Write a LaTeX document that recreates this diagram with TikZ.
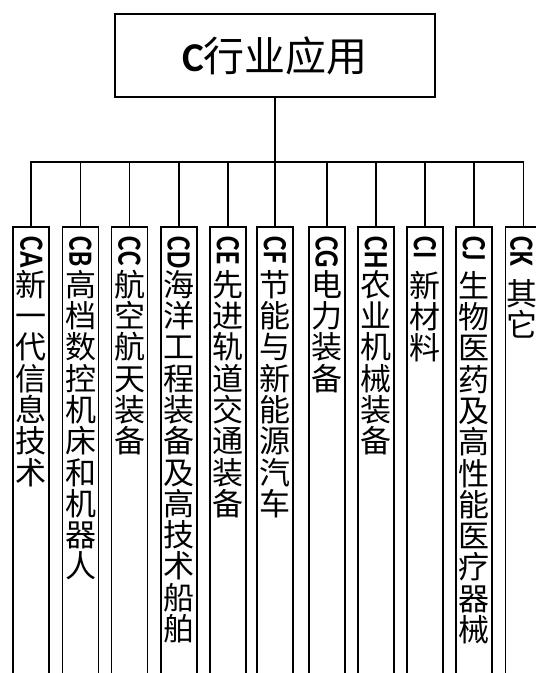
\documentclass[tikz,border=0pt]{standalone}
\usepackage{fontspec}
\usepackage{graphicx}
\setmainfont{Carlito}
\newfontfamily\cjk{Noto Sans CJK SC}
\makeatletter
\newcommand\vstack[1]{\vbox{\cjk\fontsize{31}{31.3}\selectfont\lineskiplimit=-100pt
  \@tfor\vs@ch:=#1\do{\hbox to 30pt{\hss\rule{0pt}{27.5pt}\vs@ch\hss}}}}
\makeatother
\tikzset{
  ln/.style={line width=1.8pt},
  topbox/.style={draw, line width=1.8pt, minimum width=320pt, minimum height=83pt, inner sep=0pt,
    font=\fontsize{41}{41}\selectfont},
  colbox/.style={draw, line width=1.8pt, minimum width=36pt, minimum height=470pt, anchor=north, inner sep=0pt},
  lat/.style={rotate=-90, anchor=west, inner sep=0pt, font=\fontsize{34}{34}\selectfont\bfseries},
  cjkt/.style={anchor=north, inner sep=0pt},
}
\begin{document}
\begin{tikzpicture}[x=1pt,y=-1pt]
\useasboundingbox (0,0) rectangle (536,673);
\clip (0,0) rectangle (536,673);
\fill[white] (0,0) rectangle (536,673);
\node[topbox] (top) at (275,55.5) {{\bfseries C}{\cjk 行业应用}};
\coordinate (bus) at (275,162);
\draw[ln] (top.south) -- (top.south |- bus);
\foreach \n/\l/\x/\tx/\t/\y in {
  ca/CA/31.3/31.3/新一代信息技术/268.5,
  cb/CB/80.5/80.5/高档数控机床和机器人/268.5,
  cc/CC/129.5/129.5/航空航天装备/268.5,
  cd/CD/178.7/178.7/海洋工程装备及高技术船舶/268.5,
  ce/CE/228/228/先进轨道交通装备/268.5,
  cf/CF/275/275/节能与新能源汽车/268.5,
  cg/CG/326.6/326.6/电力装备/268.5,
  ch/CH/376/376/农业机械装备/268.5,
  ci/CI/424.8/424.8/新材料/269.5,
  cj/CJ/474/474/生物医药及高性能医疗器械/269.5,
  ck/CK/523.5/521.5/其它/277.5}{
  \node[colbox] (\n) at (\x,226) {};
  \node[lat] (\n-l) at (\tx,236.5) {\scalebox{0.8}[1]{\l}};
  \node[cjkt] (\n-t) at (\tx,\y) {\expandafter\vstack\expandafter{\t}};
}
\draw[ln] (ca.north) -- (ca.north |- bus) -- (ck.north |- bus) -- (ck.north);
\foreach \n in {cb,cc,cd,ce,cf,cg,ch,ci,cj}{
  \draw[ln] (\n.north |- bus) -- (\n.north);
}
\end{tikzpicture}
\end{document}
